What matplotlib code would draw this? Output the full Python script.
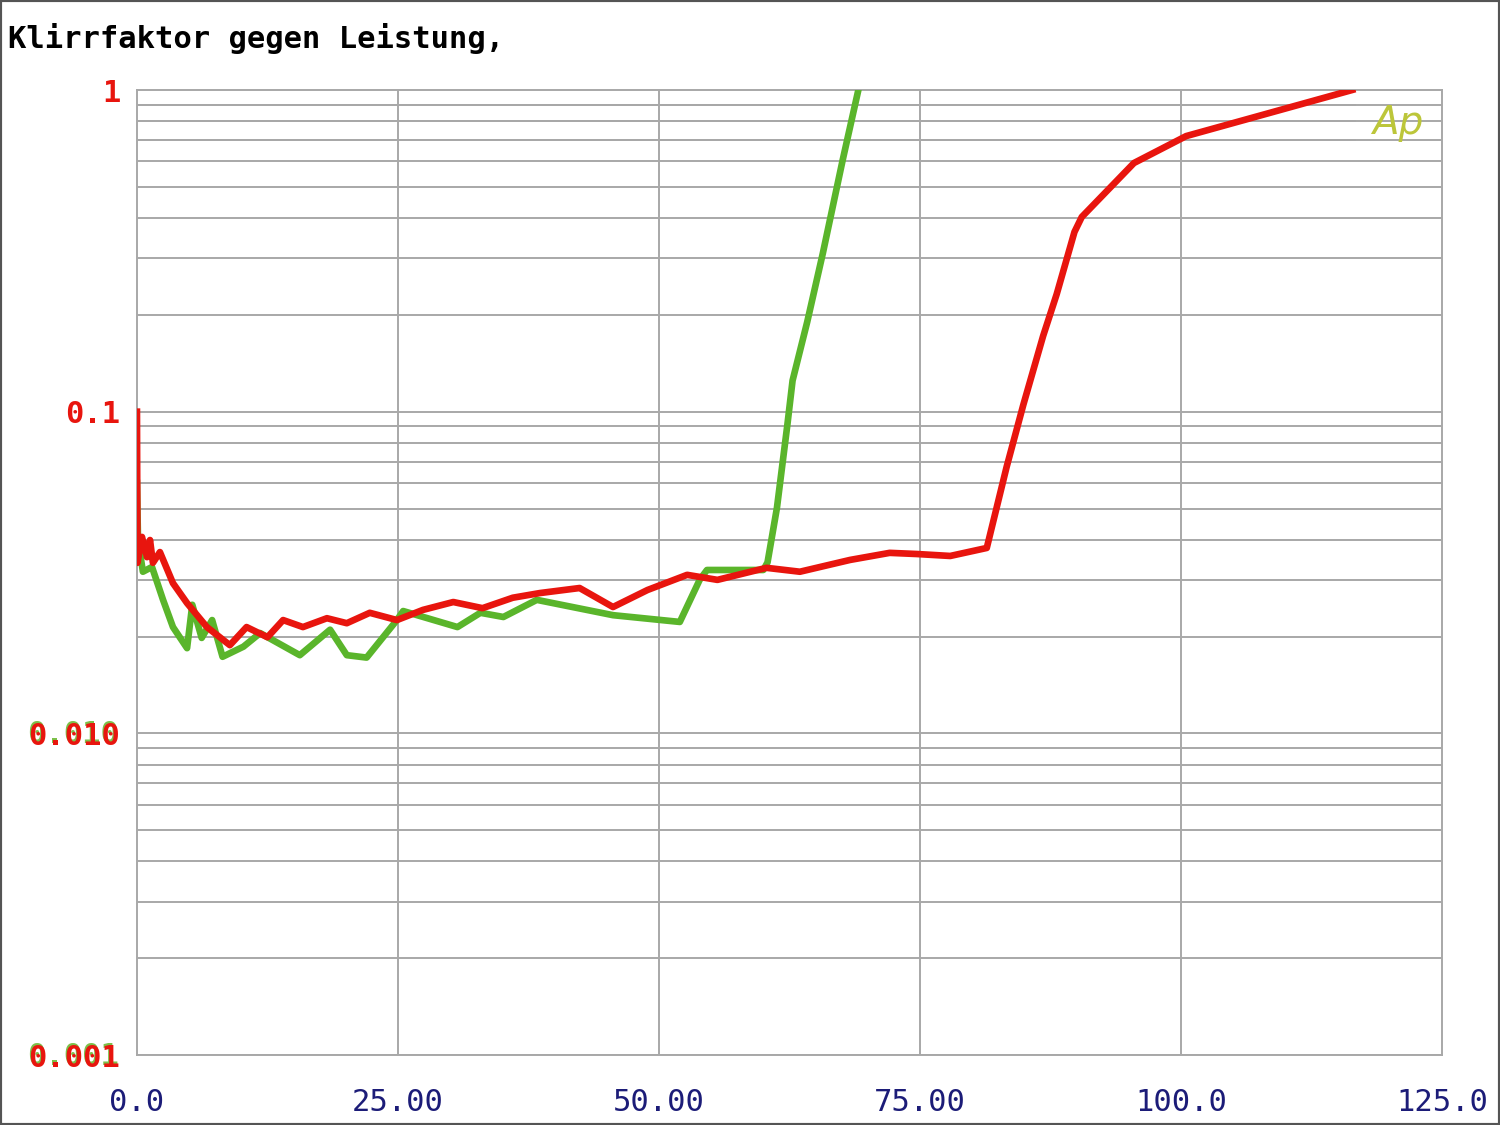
import numpy as np
import matplotlib.pyplot as plt
from matplotlib.patches import Rectangle
import matplotlib.transforms as mtransforms

# Leistung (W) und Klirrfaktor (%) - rote Kurve
red_x = [0.0, 0.05, 0.48, 0.96, 1.25, 1.53, 2.2, 3.45, 4.8, 6.7, 8.9, 10.5, 12.5,
         14.0, 15.9, 18.2, 20.1, 22.3, 24.9, 27.4, 30.3, 33.1, 36.0, 38.6, 42.4,
         45.6, 48.9, 52.7, 55.6, 60.3, 63.5, 68.3, 72.1, 74.7, 77.9, 81.4, 83.3,
         84.9, 86.8, 88.1, 89.8, 90.5, 95.5, 100.5, 116.4]
red_y = [0.1, 0.0339, 0.0408, 0.0353, 0.0399, 0.0339, 0.0366, 0.0293, 0.0254,
         0.0214, 0.0188, 0.0214, 0.0199, 0.0225, 0.0214, 0.0228, 0.0220, 0.0237,
         0.0225, 0.0242, 0.0256, 0.0245, 0.0264, 0.0273, 0.0283, 0.0247, 0.0279,
         0.0311, 0.0300, 0.0327, 0.0318, 0.0346, 0.0364, 0.0361, 0.0356, 0.0377,
         0.0673, 0.105, 0.172, 0.232, 0.362, 0.403, 0.593, 0.719, 1.0]

# gruene Kurve
green_x = [0.0, 0.1, 0.57, 1.44, 2.5, 3.45, 4.8, 5.3, 6.2, 7.2, 8.2, 10.2, 11.8,
           15.6, 18.5, 20.1, 22.0, 24.9, 25.5, 30.7, 32.9, 35.1, 38.3, 45.6, 52.0,
           53.9, 54.6, 60.0, 60.4, 61.3, 62.3, 62.8, 64.2, 65.7, 67.6, 69.1]
green_y = [0.060, 0.040, 0.0318, 0.0329, 0.026, 0.0214, 0.0184, 0.0251, 0.0198,
           0.0225, 0.0173, 0.0186, 0.0205, 0.0175, 0.021, 0.0175, 0.0172, 0.0225,
           0.024, 0.0214, 0.0237, 0.023, 0.026, 0.0233, 0.0222, 0.030, 0.0322,
           0.0322, 0.034, 0.0502, 0.091, 0.125, 0.19, 0.311, 0.606, 1.0]

x_ticks = [0, 25, 50, 75, 100, 125]
x_labels = ['0.0', '25.00', '50.00', '75.00', '100.0', '125.0']
y_ticks = [0.001, 0.01, 0.1, 1]
y_labels = ['0.001', '0.010', '0.1', '1']

grid_col = '#a8a8a8'
mono = 'DejaVu Sans Mono'

fig = plt.figure(figsize=(15, 11.25), dpi=100)
ax = fig.add_axes([0.0913, 0.0622, 0.87, 0.8578])
ax.set_yscale('log')
ax.set_xlim(0, 125)
ax.set_ylim(0.001, 1)

# Gitter von Hand, die oberen Linien enden vor dem Ap-Logo
for dec in [0.001, 0.01, 0.1]:
    for m in range(1, 10):
        ax.axhline(dec * m, color=grid_col, lw=1.4, zorder=1)
for v in [0.7, 0.8, 0.9]:
    ax.axhline(v, xmax=0.933, color=grid_col, lw=1.4, zorder=1)
for xv in [25, 50, 75, 100]:
    ax.axvline(xv, color=grid_col, lw=1.4, zorder=1)
for s in ax.spines.values():
    s.set_color(grid_col)
    s.set_linewidth(1.4)

ax.plot(green_x, green_y, color='#5ab52b', lw=4.8, zorder=3)
ax.plot(red_x, red_y, color='#e8150e', lw=4.8, zorder=4)

ax.set_xticks(x_ticks)
ax.set_xticklabels(x_labels, family=mono, fontsize=22, color='#1c1c78')
ax.set_yticks(y_ticks)
ax.set_yticklabels(y_labels, family=mono, fontsize=22, color='#e8150e',
                   fontweight='bold')
ax.yaxis.set_minor_locator(plt.NullLocator())
ax.tick_params(axis='x', length=0, pad=24)
ax.tick_params(axis='y', length=0, pad=12)

# schmaler gruener Rand unter den unteren Beschriftungen
shift = mtransforms.offset_copy(ax.get_yaxis_transform(), fig=fig, x=-1, y=-1, units='dots')
for v, lab in [(0.01, '0.010'), (0.001, '0.001')]:
    ax.text(-0.0131, v, lab, transform=shift, ha='right', va='center',
            family=mono, fontsize=22, fontweight='bold', color='#7cc04a',
            zorder=0, clip_on=False)

fig.text(0.005, 0.966, 'Klirrfaktor gegen Leistung,', family=mono, fontsize=22,
         fontweight='bold', color='black', ha='left', va='center')
fig.text(0.932, 0.891, 'Ap', family='DejaVu Sans', fontsize=28, fontstyle='italic',
         fontweight='light', color='#bcc63a', ha='center', va='center')

fig.patches.append(Rectangle((0, 0), 1, 1, transform=fig.transFigure, fill=False,
                             edgecolor='#555555', lw=3))

fig.savefig('out.png', dpi=100)
